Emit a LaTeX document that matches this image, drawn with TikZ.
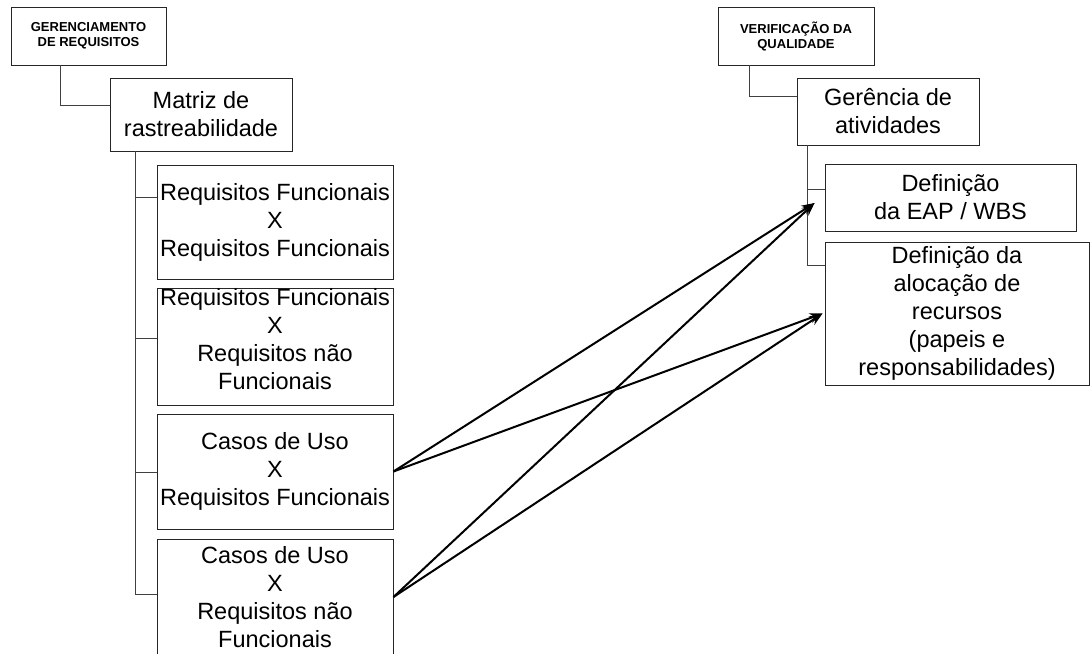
\documentclass[tikz,border=0pt]{standalone}
\usepackage{fontspec}
\setmainfont{Liberation Sans}
\usetikzlibrary{arrows.meta,calc}
\begin{document}
\begin{tikzpicture}[x=1pt,y=-1pt,
  box/.style={draw=black!85, line width=0.9pt, inner sep=0pt, align=center,
    font=\fontsize{23.5}{28}\selectfont},
  headbox/.style={draw=black!85, line width=0.9pt, inner sep=0pt, align=center,
    font=\fontsize{13}{15}\selectfont\bfseries},
  tree/.style={draw=black!75, line width=0.9pt},
  link/.style={draw=black, line width=2pt, -{Stealth[length=13pt,width=10pt]}}]
\useasboundingbox (0,0) rectangle (1091,653);

% left hierarchy
\node[headbox, minimum width=155pt, minimum height=58pt] (gr) at (88.5,36)
  {GERENCIAMENTO\\DE REQUISITOS};
\node[box, minimum width=182pt, minimum height=73pt] (mr) at (201,114.5)
  {Matriz de\\rastreabilidade};
\node[box, minimum width=236pt, minimum height=114pt] (b1) at (275,222)
  {Requisitos Funcionais\\X\\Requisitos Funcionais};
\node[box, minimum width=236pt, minimum height=115pt] (b2) at (275,346.5)
  {Requisitos Funcionais\\X\\Requisitos não\\Funcionais\\[-12pt]};
\node[box, minimum width=236pt, minimum height=115pt] (b3) at (275,471.5)
  {Casos de Uso\\X\\Requisitos Funcionais};
\node[box, minimum width=236pt, minimum height=116pt] (b4) at (275,597)
  {Casos de Uso\\X\\Requisitos não\\Funcionais};

% right hierarchy
\node[headbox, minimum width=156pt, minimum height=58pt] (vq) at (796,36)
  {VERIFICAÇÃO DA\\QUALIDADE};
\node[box, minimum width=182pt, minimum height=67pt] (ga) at (888,111.5)
  {Gerência de\\atividades};
\node[box, minimum width=251pt, minimum height=67pt] (d1) at (950.5,197.5)
  {Definição\\da EAP / WBS};
\node[box, minimum width=264pt, minimum height=143pt] (d2) at (957,313.5)
  {Definição da\\alocação de\\recursos\\(papeis e\\responsabilidades)};

% tree connectors, left
\draw[tree] (gr.south -| 60,0) |- (mr.west |- 0,105);
\draw[tree] (mr.south -| 135,0) -- (135,594);
\draw[tree] (135,197) -- (b1.west |- 0,197);
\draw[tree] (135,338) -- (b2.west |- 0,338);
\draw[tree] (135,472) -- (b3.west |- 0,472);
\draw[tree] (135,594) -- (b4.west |- 0,594);

% tree connectors, right
\draw[tree] (vq.south -| 749,0) |- (ga.west |- 0,96);
\draw[tree] (ga.south -| 807,0) -- (807,265);
\draw[tree] (807,189) -- (d1.west |- 0,189);
\draw[tree] (807,265) -- (d2.west |- 0,265);

% cross links
\coordinate (t1) at ($(d1.west)+(-10,5.5)$);
\coordinate (t2) at ($(d2.west)+(-2,0)$);
\draw[link] (b3.east) -- (t1);
\draw[link] (b3.east) -- (t2);
\draw[link] (b4.east) -- (t1);
\draw[link] (b4.east) -- (t2);
\end{tikzpicture}
\end{document}
